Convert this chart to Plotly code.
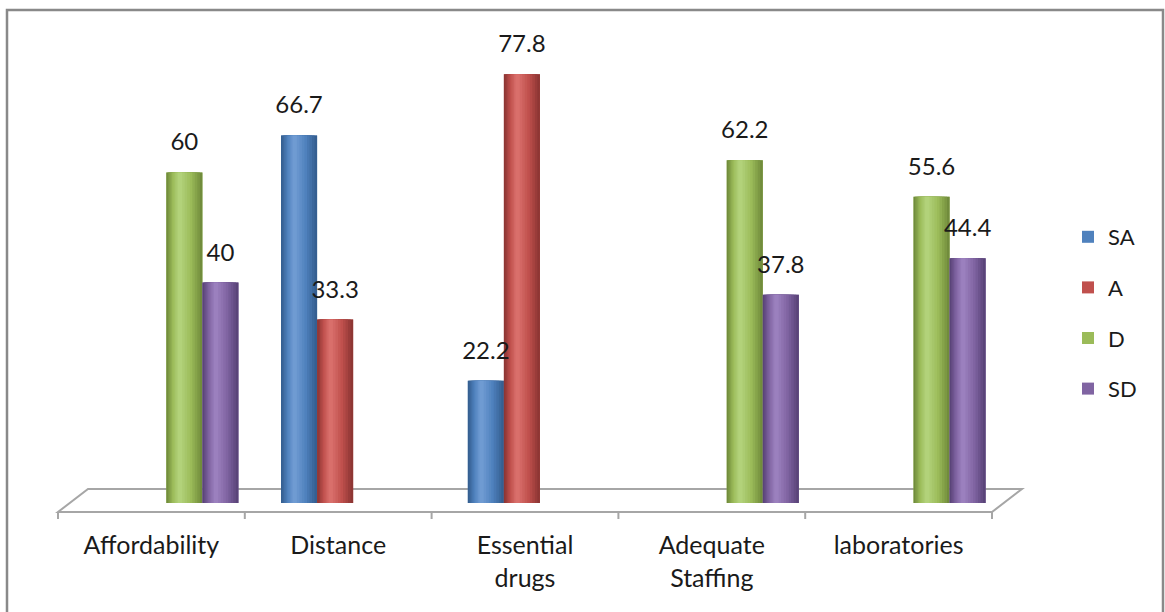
import plotly.graph_objects as go
import numpy as np

categories = ["Affordability", "Distance", "Essential<br>drugs", "Adequate<br>Staffing", "laboratories"]
series_names = ["SA", "A", "D", "SD"]
sa_values = [None, 66.7, 22.2, None, None]
a_values = [None, 33.3, 77.8, None, None]
d_values = [60, None, None, 62.2, 55.6]
sd_values = [40, None, None, 37.8, 44.4]
series_values = [sa_values, a_values, d_values, sd_values]

base_colors = ["#4F81BD", "#C0504D", "#9BBB59", "#8064A2"]
dark_colors = ["#355F91", "#8E3634", "#718C3C", "#5A4479"]
light_colors = ["#6F9BD2", "#D96F6B", "#B2D27A", "#9B80BE"]

FONT = "Lato"
FS = 24
BAR_W = 0.193      # width of one cylinder (category units)
DEPTH = 0.08       # 3-D depth shift of the cylinders
N_LAYERS = 9

# plot-area pixel geometry
L, R, T, B = 58, 992, 30, 503
W_PX, H_PX = R - L, B - T


def px(x):
    return (x - L) / W_PX


def py(y):
    return (B - y) / H_PX


def hex2rgb(h):
    h = h.lstrip("#")
    return np.array([int(h[i:i + 2], 16) for i in (0, 2, 4)], dtype=float)


def mix(c1, c2, t):
    c = hex2rgb(c1) * (1 - t) + hex2rgb(c2) * t
    return "rgb(%d,%d,%d)" % tuple(np.round(c))


idx = np.arange(len(categories))
fig = go.Figure()

for k, (name, vals) in enumerate(zip(series_names, series_values)):
    xs = idx + DEPTH + (k - 1.5) * BAR_W
    # legend entry (flat base colour), hidden under shading layers
    fig.add_trace(go.Bar(x=xs, y=vals, width=BAR_W, name=name, legendgroup=name,
                         marker=dict(color=base_colors[k], line=dict(width=0)),
                         showlegend=True, hoverinfo="skip"))
    for j in range(N_LAYERS):
        t = j / (N_LAYERS - 1)
        frac = 1 - 0.88 * t
        shift = -BAR_W * 0.12 * t
        col = mix(dark_colors[k], base_colors[k], min(1, t * 2)) if t < 0.5 else \
            mix(base_colors[k], light_colors[k], (t - 0.5) * 2)
        fig.add_trace(go.Bar(x=xs + shift, y=vals, width=BAR_W * frac, legendgroup=name,
                             marker=dict(color=col, line=dict(width=0)),
                             showlegend=False, hoverinfo="skip"))
    labels = [f"{v:g}" if v is not None else "" for v in vals]
    fig.add_trace(go.Scatter(x=xs, y=vals, mode="markers+text", text=labels,
                             textposition="top center",
                             marker=dict(size=24, color="rgba(0,0,0,0)"),
                             textfont=dict(family=FONT, size=FS, color="#1a1a1a"),
                             showlegend=False, hoverinfo="skip", cliponaxis=False))

shapes = []
floor_col = "#a6a6a6"
# floor parallelogram
shapes.append(dict(type="path", xref="paper", yref="paper", layer="below",
                   path=f"M{px(58)},{py(512)} L{px(992)},{py(512)} L{px(1022)},{py(489)} "
                        f"L{px(88)},{py(489)} Z",
                   line=dict(color=floor_col, width=2), fillcolor="rgba(0,0,0,0)"))
# boundary tick marks on the floor front edge
for kk in range(len(categories) + 1):
    xx = kk / len(categories)
    shapes.append(dict(type="line", xref="paper", yref="paper", x0=xx, x1=xx,
                       y0=py(512), y1=py(519), line=dict(color=floor_col, width=2)))
# chart border
shapes.append(dict(type="rect", xref="paper", yref="paper",
                   x0=px(7), x1=px(1163), y0=py(618), y1=py(10),
                   line=dict(color="#898989", width=2.5), fillcolor="rgba(0,0,0,0)"))

fig.update_layout(
    width=1165, height=612,
    margin=dict(l=L, r=1165 - R, t=T, b=612 - B),
    barmode="overlay",
    plot_bgcolor="white", paper_bgcolor="white",
    font=dict(family=FONT, size=FS, color="#1a1a1a"),
    showlegend=True,
    legend=dict(x=px(1068), xanchor="left", y=py(313), yanchor="middle",
                traceorder="grouped", tracegroupgap=19,
                font=dict(family=FONT, size=22, color="#1a1a1a"),
                bgcolor="rgba(0,0,0,0)"),
    shapes=shapes,
    xaxis=dict(range=[-0.5, len(categories) - 0.5], tickmode="array",
               tickvals=list(idx), ticktext=categories, showline=False,
               showgrid=False, zeroline=False, ticks="", ticklabelstandoff=25,
               tickfont=dict(family=FONT, size=25, color="#1a1a1a"), fixedrange=True),
    yaxis=dict(range=[0, H_PX / 5.51], visible=False, fixedrange=True),
)

fig.write_html("out.html")
